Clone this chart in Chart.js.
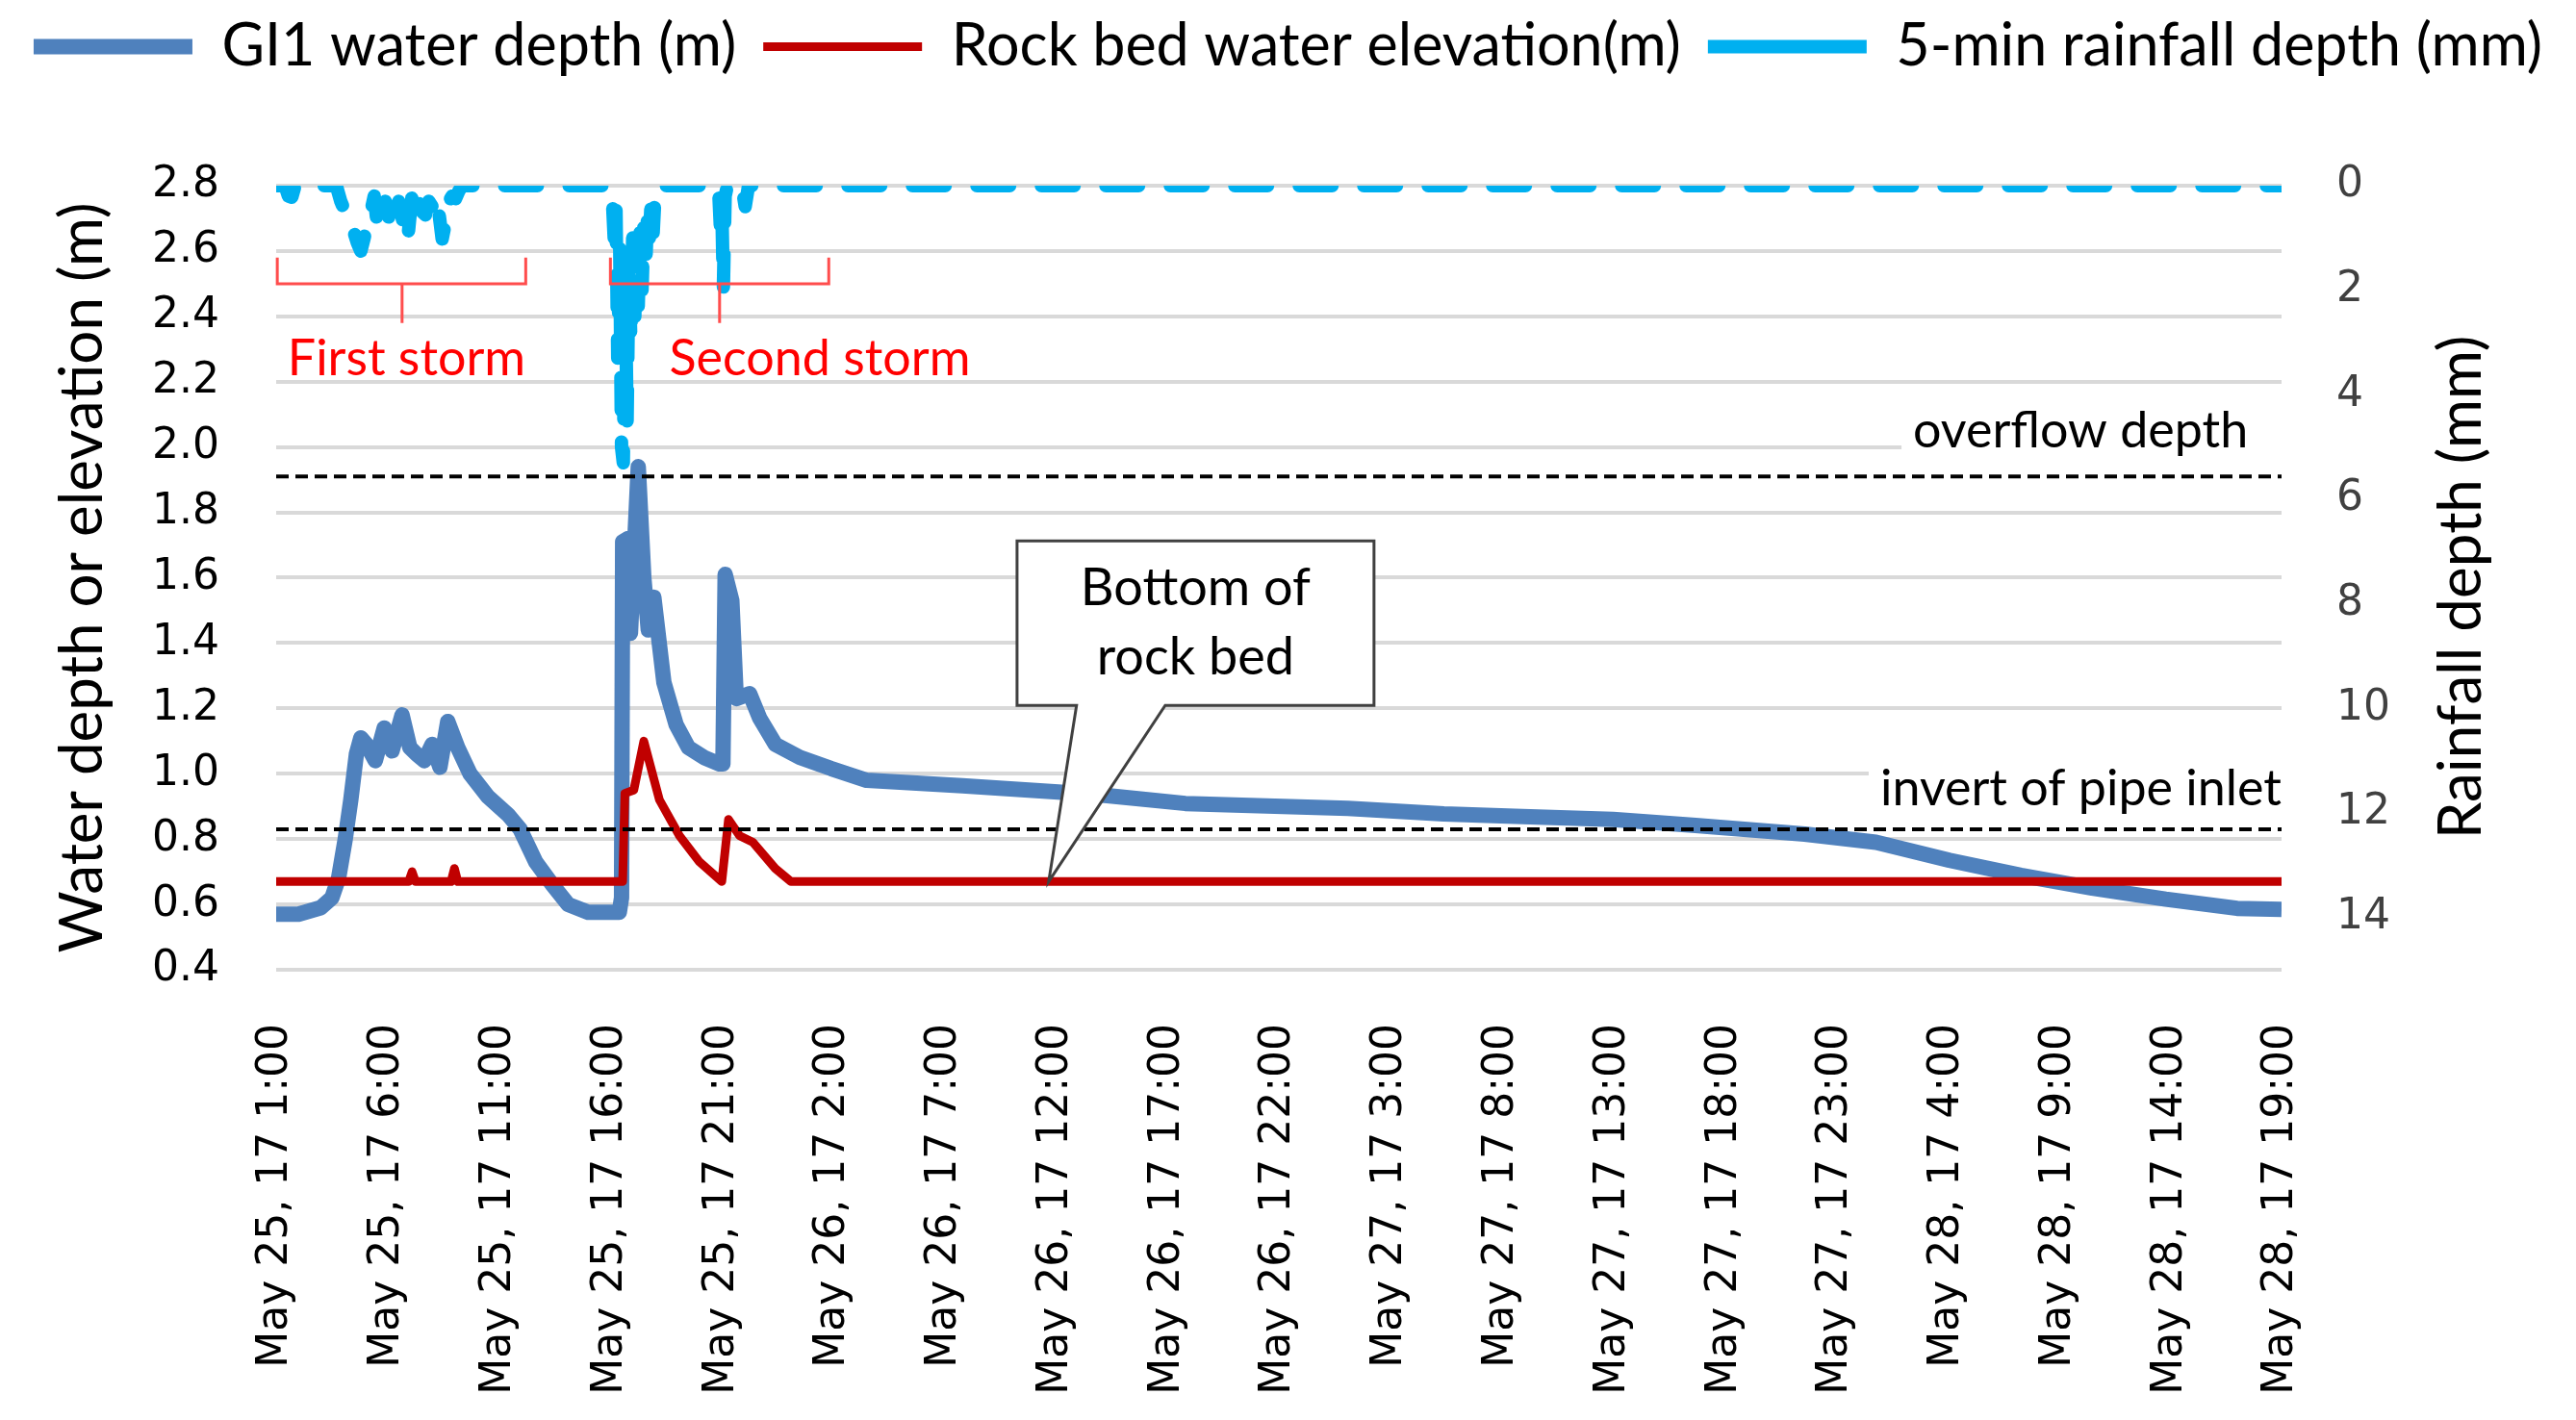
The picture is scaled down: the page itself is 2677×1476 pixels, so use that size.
<!DOCTYPE html>
<html>
<head>
<meta charset="utf-8">
<title>GI1 water depth and rainfall</title>
<script src="https://cdn.jsdelivr.net/npm/chart.js@4.4.0/dist/chart.umd.min.js"></script>
<style>
  html, body { margin: 0; padding: 0; background: #fff; }
  canvas { display: block; }
</style>
</head>
<body>
<canvas id="depthChart" width="2677" height="1476"></canvas>
<script>
// x values are hours after May 25, 2017 1:00
const timeLabels = [
  'May 25, 17 1:00', 'May 25, 17 6:00', 'May 25, 17 11:00', 'May 25, 17 16:00',
  'May 25, 17 21:00', 'May 26, 17 2:00', 'May 26, 17 7:00', 'May 26, 17 12:00',
  'May 26, 17 17:00', 'May 26, 17 22:00', 'May 27, 17 3:00', 'May 27, 17 8:00',
  'May 27, 17 13:00', 'May 27, 17 18:00', 'May 27, 17 23:00', 'May 28, 17 4:00',
  'May 28, 17 9:00', 'May 28, 17 14:00', 'May 28, 17 19:00'
];

// [hour, m]
const gi1Depth = [
  [0, 0.57], [1.0, 0.57], [2.0, 0.59], [2.5, 0.62], [2.8, 0.68], [3.1, 0.8],
  [3.35, 0.92], [3.6, 1.06], [3.8, 1.11], [4.05, 1.09], [4.45, 1.04], [4.85, 1.14],
  [5.2, 1.07], [5.65, 1.18], [6.0, 1.08], [6.3, 1.06], [6.65, 1.04], [7.0, 1.09],
  [7.35, 1.02], [7.7, 1.16], [8.15, 1.08], [8.7, 1.0], [9.5, 0.93], [10.4, 0.875],
  [10.95, 0.83], [11.65, 0.73], [12.4, 0.66], [13.1, 0.6], [14.0, 0.576], [15.4, 0.576],
  [15.5, 0.62], [15.55, 1.71], [15.8, 1.72], [15.9, 1.43], [16.25, 1.94], [16.5, 1.6],
  [16.7, 1.44], [16.95, 1.54], [17.4, 1.28], [17.95, 1.15], [18.5, 1.08], [19.2, 1.05],
  [19.9, 1.03], [20.05, 1.03], [20.15, 1.61], [20.45, 1.53], [20.65, 1.23], [21.25, 1.245],
  [21.7, 1.17], [22.4, 1.09], [23.5, 1.05], [24.9, 1.016], [26.5, 0.98], [30.8, 0.963],
  [35.1, 0.944], [37.3, 0.933], [40.8, 0.909], [48.1, 0.894], [52.4, 0.877], [55.6, 0.87],
  [60.0, 0.86], [63.7, 0.842], [68.6, 0.815], [71.8, 0.79], [75.1, 0.735], [78.3, 0.689],
  [81.5, 0.65], [84.8, 0.616], [88.0, 0.588], [90, 0.585]
];

// [hour, m]
const rockBedElev = [
  [0, 0.67], [5.95, 0.67], [6.1, 0.70], [6.25, 0.67], [7.85, 0.67], [8.0, 0.71],
  [8.15, 0.67], [15.55, 0.67], [15.65, 0.94], [16.05, 0.95], [16.5, 1.10], [17.2, 0.92],
  [18.1, 0.81], [19.0, 0.73], [20.0, 0.67], [20.3, 0.86], [20.8, 0.81], [21.4, 0.79],
  [22.4, 0.71], [23.1, 0.67], [90, 0.67]
];

// [hour, mm]
const rainfall5min = [
  [0, 0], [0.4, 0], [0.55, 0.2], [0.7, 0.22], [0.85, 0],
  // first storm
  [2.7, 0], [2.9, 0.3], [3.1, 0.5], [3.3, 0.7], [3.5, 0.9], [3.65, 1.1], [3.8, 1.25],
  [3.95, 1.0], [4.1, 0.7], [4.25, 0.5], [4.4, 0.2], [4.5, 0.6], [4.6, 0.2], [4.75, 0.5],
  [4.9, 0.3], [5.05, 0.6], [5.2, 0.2], [5.35, 0.5], [5.5, 0.3], [5.65, 0.6], [5.8, 1.0],
  [5.9, 1.05], [6.0, 0.6], [6.1, 0.2], [6.25, 0.5], [6.4, 0.3], [6.55, 0.5], [6.7, 0.56],
  [6.85, 0.3], [7.0, 0.4], [7.15, 0.2], [7.3, 0.5], [7.45, 1.02], [7.6, 0.7], [7.75, 0.3],
  [7.9, 0.2], [8.05, 0.25], [8.2, 0.1], [8.35, 0],
  // second storm
  [15.0, 0], [15.08, 0.2], [15.17, 1.0], [15.25, 0.4], [15.33, 3.3], [15.42, 1.2],
  [15.5, 5.0], [15.58, 5.3], [15.67, 2.0], [15.75, 4.5], [15.83, 1.5], [15.92, 3.0],
  [16.0, 1.0], [16.08, 2.8], [16.17, 1.1], [16.25, 2.3], [16.33, 0.9], [16.42, 2.0],
  [16.5, 0.8], [16.58, 1.6], [16.67, 0.5], [16.75, 1.0], [16.83, 0.3], [16.92, 0.9],
  [17.0, 0.2], [17.08, 0],
  [19.85, 0], [19.93, 0.75], [20.0, 0.4], [20.07, 1.97], [20.15, 0.2], [20.25, 0],
  [20.9, 0], [21.05, 0.4], [21.2, 0], [90, 0]
];

const overflowDepth = 1.91;
const pipeInvert = 0.83;

// annotation anchors in data units (hours, m)
const stormNotes = [
  { text: 'First storm', from: 0.05, to: 11.2, mid: 5.65, textAt: 5.85 },
  { text: 'Second storm', from: 15.0, to: 24.8, mid: 19.9, textAt: 24.4 }
];
const bracketTop = 2.58, bracketLine = 2.5, bracketTail = 2.38, stormTextLevel = 2.22;
const lineNotes = [
  { text: 'overflow depth', right: 88.5, baseline: 2.0 },
  { text: 'invert of pipe inlet', right: 90, baseline: 0.904 }
];
const callout = {
  lines: ['Bottom of', 'rock bed'],
  left: 33.25, right: 49.27, top: 1.713, bottom: 1.209,
  baseFrom: 35.92, baseTo: 39.9, tipX: 34.67, tipY: 0.67
};

const toPts = (arr) => arr.map(([h, v]) => ({ x: h, y: v }));
const flat = (v) => [{ x: 0, y: v }, { x: 90, y: v }];

const calibriLike = 'Lato, "Open Sans", sans-serif';
const tickFont = { family: 'DejaVu Sans', size: 44 };

// push the plot area down below the legend
const legendGap = {
  id: 'legendGap',
  beforeInit(chart) {
    const fit = chart.legend.fit;
    chart.legend.fit = function () {
      fit.call(this);
      this.height += 104;
    };
  }
};

const notes = {
  id: 'notes',
  afterDatasetsDraw(chart) {
    const { ctx, chartArea: area, scales } = chart;
    const px = (h) => scales.x.getPixelForValue(h);
    const py = (v) => scales.y.getPixelForValue(v);
    ctx.save();

    // storm brackets
    ctx.lineWidth = 3;
    ctx.strokeStyle = '#ff4d4d';
    ctx.font = '52px ' + calibriLike;
    ctx.textAlign = 'center';
    ctx.textBaseline = 'alphabetic';
    stormNotes.forEach((s) => {
      const top = py(bracketTop), mid = py(bracketLine), tail = py(bracketTail);
      ctx.beginPath();
      ctx.moveTo(px(s.from), top);
      ctx.lineTo(px(s.from), mid);
      ctx.lineTo(px(s.to), mid);
      ctx.lineTo(px(s.to), top);
      ctx.moveTo(px(s.mid), mid);
      ctx.lineTo(px(s.mid), tail);
      ctx.stroke();
      ctx.fillStyle = '#ff0000';
      ctx.fillText(s.text, px(s.textAt), py(stormTextLevel));
    });

    // labels of the dashed reference lines, on white
    ctx.textAlign = 'right';
    lineNotes.forEach((n) => {
      const w = ctx.measureText(n.text).width;
      const xr = px(n.right), yb = py(n.baseline);
      ctx.fillStyle = '#fff';
      ctx.fillRect(xr - w - 12, yb - 44, area.right - (xr - w - 12), 58);
      ctx.fillStyle = '#000';
      ctx.fillText(n.text, xr, yb);
    });

    // callout box with pointer
    const c = callout;
    const l = px(c.left), r = px(c.right), t = py(c.top), b = py(c.bottom);
    ctx.beginPath();
    ctx.moveTo(px(c.baseFrom), b);
    ctx.lineTo(l, b);
    ctx.lineTo(l, t);
    ctx.lineTo(r, t);
    ctx.lineTo(r, b);
    ctx.lineTo(px(c.baseTo), b);
    ctx.lineTo(px(c.tipX), py(c.tipY));
    ctx.closePath();
    ctx.fillStyle = '#fff';
    ctx.fill();
    ctx.strokeStyle = '#404040';
    ctx.lineWidth = 3;
    ctx.stroke();
    ctx.fillStyle = '#000';
    ctx.font = '54px ' + calibriLike;
    ctx.textAlign = 'center';
    ctx.textBaseline = 'middle';
    ctx.fillText(c.lines[0], (l + r) / 2, t + (b - t) * 0.29);
    ctx.fillText(c.lines[1], (l + r) / 2, t + (b - t) * 0.71);
    ctx.restore();
  },
  afterDraw(chart) {
    // right axis title reads bottom-to-top like the left one
    const { ctx, chartArea: area } = chart;
    ctx.save();
    ctx.translate(area.right + 187, (area.top + area.bottom) / 2 + 10);
    ctx.rotate(-Math.PI / 2);
    ctx.font = '62px ' + calibriLike;
    ctx.fillStyle = '#000';
    ctx.textAlign = 'center';
    ctx.textBaseline = 'middle';
    ctx.fillText('Rainfall depth (mm)', 0, 0);
    ctx.restore();
  }
};

const ctx = document.getElementById('depthChart').getContext('2d');

const depthChart = new Chart(ctx, {
  type: 'line',
  data: {
    datasets: [
      {
        label: 'GI1 water depth (m)',
        data: toPts(gi1Depth),
        borderColor: '#4f81bd',
        backgroundColor: '#4f81bd',
        borderWidth: 16,
        borderJoinStyle: 'round',
        pointRadius: 0,
        yAxisID: 'y',
        order: 2
      },
      {
        label: 'Rock bed water elevation(m)',
        data: toPts(rockBedElev),
        borderColor: '#c00000',
        backgroundColor: '#c00000',
        borderWidth: 9,
        borderJoinStyle: 'round',
        pointRadius: 0,
        yAxisID: 'y',
        order: 1
      },
      {
        label: '5-min rainfall depth (mm)',
        data: toPts(rainfall5min),
        borderColor: '#00b0f0',
        backgroundColor: '#00b0f0',
        borderWidth: 14,
        borderDash: [34, 33],
        borderCapStyle: 'round',
        borderJoinStyle: 'round',
        pointRadius: 0,
        yAxisID: 'y2',
        order: 3
      },
      {
        label: 'overflow depth',
        data: flat(overflowDepth),
        borderColor: '#000',
        borderWidth: 4,
        borderDash: [13, 7],
        pointRadius: 0,
        yAxisID: 'y',
        order: 0
      },
      {
        label: 'invert of pipe inlet',
        data: flat(pipeInvert),
        borderColor: '#000',
        borderWidth: 4,
        borderDash: [13, 7],
        pointRadius: 0,
        yAxisID: 'y',
        order: 0
      }
    ]
  },
  options: {
    responsive: false,
    animation: false,
    devicePixelRatio: 1,
    layout: { padding: { top: -10, left: 0, right: 0, bottom: 0 } },
    plugins: {
      tooltip: { enabled: false },
      legend: {
        position: 'top',
        align: 'center',
        labels: {
          usePointStyle: true,
          pointStyle: 'line',
          pointStyleWidth: 165,
          padding: 28,
          color: '#000',
          font: { family: calibriLike, size: 61 },
          filter: (item) => item.datasetIndex < 3,
          sort: (a, b) => a.datasetIndex - b.datasetIndex
        }
      }
    },
    scales: {
      x: {
        type: 'linear',
        min: 0,
        max: 90,
        grid: { display: false },
        border: { display: false },
        ticks: {
          stepSize: 5,
          autoSkip: false,
          minRotation: 90,
          maxRotation: 90,
          padding: 48,
          color: '#000',
          font: tickFont,
          callback: (v) => timeLabels[Math.round(v / 5)]
        },
        afterFit: (scale) => { scale.height = 468; }
      },
      y: {
        position: 'left',
        min: 0.4,
        max: 2.8,
        grid: { color: '#d9d9d9', lineWidth: 4, drawTicks: false },
        border: { display: false },
        ticks: {
          stepSize: 0.2,
          padding: 59,
          color: '#000',
          font: tickFont,
          callback: (v) => v.toFixed(1)
        },
        title: {
          display: true,
          text: 'Water depth or elevation (m)',
          color: '#000',
          font: { family: calibriLike, size: 62 },
          padding: { top: 49, bottom: 0 }
        },
        afterFit: (scale) => { scale.width = 287; }
      },
      y2: {
        position: 'right',
        min: 0,
        max: 15,
        reverse: true,
        grid: { drawOnChartArea: false, drawTicks: false },
        border: { display: false },
        ticks: {
          stepSize: 2,
          padding: 57,
          color: '#404040',
          font: tickFont
        },
        afterBuildTicks: (scale) => {
          scale.ticks = scale.ticks.filter((t) => t.value % 2 === 0);
        },
        afterFit: (scale) => { scale.width = 306; }
      }
    }
  },
  plugins: [legendGap, notes]
});
</script>
</body>
</html>
